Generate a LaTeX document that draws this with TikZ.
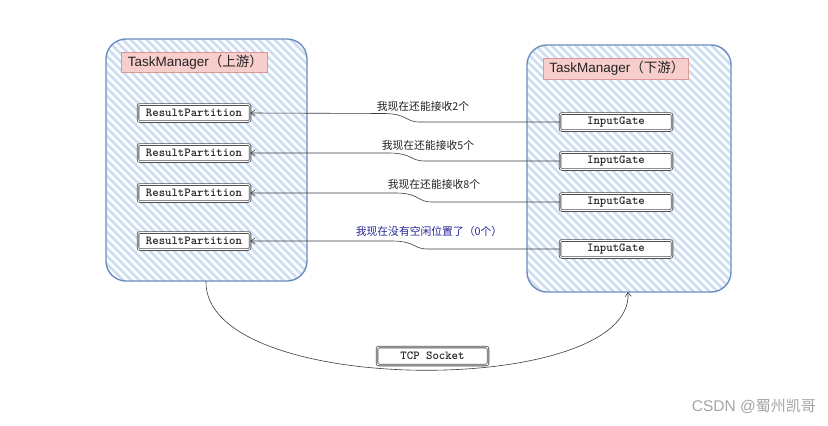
\documentclass[tikz,border=0pt]{standalone}
\usepackage{fontspec}
\setmainfont{Liberation Sans}
\newfontfamily\mymono{lmmonolt10-bold.otf}
\newfontfamily\cjk{Noto Sans CJK SC}
\usetikzlibrary{arrows.meta}
\definecolor{boxblue}{RGB}{108,142,191}
\definecolor{hatchblue}{RGB}{205,222,243}
\definecolor{pinkfill}{RGB}{248,206,204}
\definecolor{pinkdraw}{RGB}{222,150,150}
\definecolor{labelblue}{RGB}{40,40,150}
\definecolor{textdark}{RGB}{35,35,35}
\definecolor{wmgray}{RGB}{165,165,165}
\definecolor{linegray}{RGB}{60,60,60}
\definecolor{boxgray}{RGB}{80,80,80}
\tikzset{
  tmbox/.style={draw=boxblue, line width=1.4pt, rounded corners=20pt, inner sep=0pt,
    path picture={\foreach \k in {-280,-272,...,220}
      \draw[hatchblue, line width=2.8pt] ([xshift=\k pt]path picture bounding box.north west) -- ++(320,320);}},
  tmtitle/.style={draw=pinkdraw, fill=pinkfill, line width=0.6pt, inner sep=0pt, anchor=west, font=\fontsize{13.5}{13.5}\selectfont, text=textdark},
  partbox/.style={draw=boxgray, double=white, double distance=0.9pt, line width=0.8pt, fill=white, rounded corners=2pt,
    minimum width=112pt, minimum height=17pt, inner sep=0pt, font=\mymono\fontsize{12.2}{12.2}\selectfont, text=textdark},
  msg/.style={draw=linegray, line width=0.6pt, -{Straight Barb[length=4pt,width=6pt]}},
  msglabel/.style={font=\cjk\fontsize{10.8}{10.8}\selectfont, text=textdark, inner sep=1pt},
}
\begin{document}
\begin{tikzpicture}[x=1pt,y=-1pt]
\useasboundingbox[fill=white] (0,0) rectangle (828,426);
% TaskManager boxes
\node[tmbox, minimum width=201pt, minimum height=242pt] (up) at (206.5,160) {};
\node[tmbox, minimum width=204pt, minimum height=247pt] (down) at (629,168.5) {};
\node[tmtitle, minimum width=146pt, minimum height=20pt] (uptitle) at (121,62) {\hspace{2pt}TaskManager{\cjk（上游）}\hfill};
\node[tmtitle, minimum width=145pt, minimum height=21pt] (downtitle) at (543,68.5) {\hspace{2pt}TaskManager{\cjk（下游）}\hfill};
% partitions
\node[partbox] (rp1) at (194,113) {ResultPartition};
\node[partbox] (rp2) at (194,153) {ResultPartition};
\node[partbox] (rp3) at (194,193) {ResultPartition};
\node[partbox] (rp4) at (194,241) {ResultPartition};
% input gates
\node[partbox] (ig1) at (616,122) {InputGate};
\node[partbox] (ig2) at (616,161) {InputGate};
\node[partbox] (ig3) at (616,202) {InputGate};
\node[partbox] (ig4) at (616,249) {InputGate};
% messages
\draw[msg] (ig1.west) -- (420,122) .. controls (405,122) and (408,114) .. (385,113.5) -- (rp1.east);
\draw[msg] (ig2.west) -- (425,161) .. controls (410,161) and (413,153.5) .. (390,153) -- (rp2.east);
\draw[msg] (ig3.west) -- (432,202) .. controls (417,202) and (420,193.5) .. (397,193) -- (rp3.east);
\draw[msg] (ig4.west) -- (428,249) .. controls (413,249) and (416,241.5) .. (393,241) -- (rp4.east);
\node[msglabel] (l1) at (423,106) {我现在还能接收2个};
\node[msglabel] (l2) at (428,145) {我现在还能接收5个};
\node[msglabel] (l3) at (434,184.5) {我现在还能接收8个};
\node[msglabel, text=labelblue] (l4) at (429,231.5) {我现在没有空闲位置了（0个）};
% TCP socket
\coordinate (tcpa) at (206,281);
\coordinate (tcpb) at (628,292);
\draw[msg] (tcpa) .. controls (203,398) and (634,398) .. (tcpb);
\node[partbox, minimum width=111pt, minimum height=18pt] (tcp) at (432.5,356) {TCP Socket};
% watermark
\node[text=wmgray, anchor=east, inner sep=0pt] (wm) at (816,406) {\fontsize{15.5}{15.5}\selectfont CSDN @{\cjk\fontsize{15}{15}\selectfont 蜀州凯哥}};
\end{tikzpicture}
\end{document}
